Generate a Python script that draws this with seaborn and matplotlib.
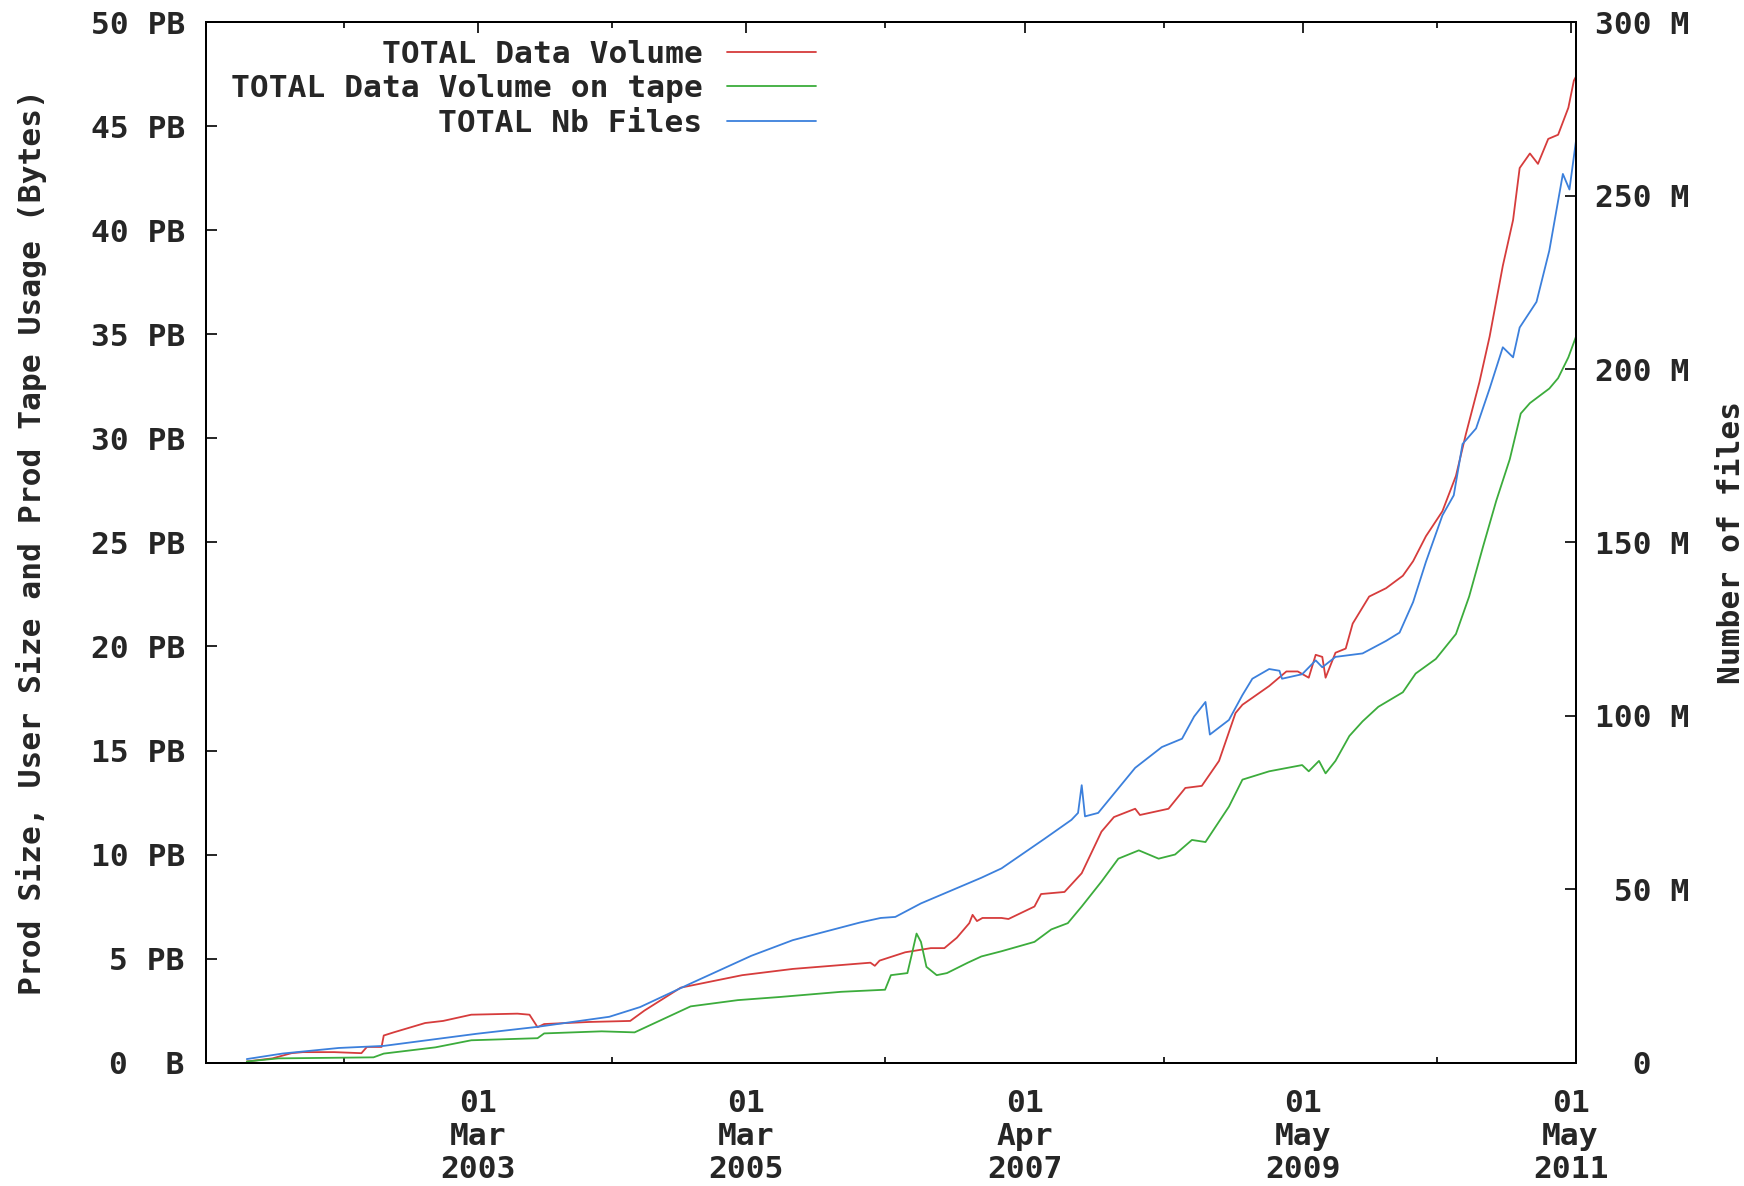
import pandas as pd
import matplotlib.pyplot as plt
import seaborn as sns


# DATA

vol_dates = [
    "2001-06-07", "2001-08-16", "2001-10-07", "2001-11-07", "2002-02-01", "2002-04-16",
    "2002-05-01", "2002-06-10", "2002-06-16", "2002-07-13", "2002-10-07", "2002-11-25",
    "2003-02-10", "2003-06-16", "2003-07-19", "2003-08-10", "2003-08-28", "2003-12-28",
    "2004-04-19", "2004-05-28", "2004-09-04", "2005-02-19", "2005-07-07", "2006-02-04",
    "2006-02-16", "2006-03-01", "2006-05-10", "2006-07-19", "2006-08-25", "2006-09-28",
    "2006-11-01", "2006-11-10", "2006-11-22", "2006-12-07", "2007-01-28", "2007-02-16",
    "2007-04-28", "2007-05-16", "2007-07-19", "2007-09-04", "2007-10-28", "2007-12-01",
    "2008-01-28", "2008-02-10", "2008-04-28", "2008-06-13", "2008-07-28", "2008-09-13",
    "2008-10-28", "2008-11-16", "2009-01-28", "2009-03-16", "2009-04-16", "2009-05-16",
    "2009-06-04", "2009-06-22", "2009-07-01", "2009-07-28", "2009-08-25", "2009-09-13",
    "2009-10-28", "2009-12-13", "2010-01-28", "2010-02-25", "2010-04-01", "2010-05-16",
    "2010-06-22", "2010-07-19", "2010-08-25", "2010-09-22", "2010-10-28", "2010-11-25",
    "2010-12-13", "2011-01-10", "2011-02-01", "2011-03-01", "2011-03-28", "2011-04-25",
    "2011-05-10", "2011-05-16",
]
vol_pb = [
    0.05, 0.2, 0.45, 0.5, 0.5, 0.45,
    0.75, 0.75, 1.3, 1.45, 1.9, 2.0,
    2.3, 2.35, 2.3, 1.7, 1.85, 1.95,
    2.0, 2.5, 3.6, 4.2, 4.5, 4.8,
    4.65, 4.9, 5.3, 5.5, 5.5, 6.0,
    6.7, 7.1, 6.8, 6.95, 6.95, 6.9,
    7.5, 8.1, 8.2, 9.1, 11.1, 11.8,
    12.2, 11.9, 12.2, 13.2, 13.3, 14.5,
    16.8, 17.2, 18.1, 18.8, 18.8, 18.5,
    19.6, 19.5, 18.5, 19.7, 19.9, 21.1,
    22.4, 22.8, 23.4, 24.1, 25.3, 26.5,
    28.2, 30.2, 32.7, 34.9, 38.3, 40.5,
    43.0, 43.7, 43.2, 44.4, 44.6, 45.9,
    47.2, 47.4,
]

tape_dates = [
    "2001-06-07", "2001-09-01", "2002-05-19", "2002-06-16", "2002-11-04", "2003-02-10",
    "2003-08-10", "2003-08-28", "2004-02-01", "2004-05-01", "2004-10-01", "2005-02-07",
    "2005-06-01", "2005-11-16", "2006-03-16", "2006-04-01", "2006-05-16", "2006-05-28",
    "2006-06-10", "2006-06-22", "2006-07-07", "2006-08-04", "2006-09-01", "2006-10-28",
    "2006-12-04", "2007-01-28", "2007-04-28", "2007-06-13", "2007-07-28", "2007-09-04",
    "2007-10-28", "2007-12-13", "2008-02-07", "2008-04-01", "2008-05-16", "2008-07-01",
    "2008-08-07", "2008-10-10", "2008-11-16", "2009-01-28", "2009-04-28", "2009-05-16",
    "2009-06-13", "2009-07-01", "2009-07-28", "2009-09-04", "2009-10-10", "2009-11-22",
    "2010-01-28", "2010-03-04", "2010-04-28", "2010-06-22", "2010-07-28", "2010-09-04",
    "2010-10-10", "2010-11-16", "2010-12-16", "2011-01-10", "2011-03-04", "2011-03-28",
    "2011-04-25", "2011-05-16",
]
tape_pb = [
    0.05, 0.2, 0.25, 0.43, 0.73, 1.07,
    1.17, 1.4, 1.5, 1.45, 2.7, 3.0,
    3.15, 3.4, 3.5, 4.2, 4.3, 5.2,
    6.2, 5.8, 4.6, 4.2, 4.3, 4.8,
    5.1, 5.35, 5.8, 6.4, 6.7, 7.5,
    8.7, 9.8, 10.2, 9.8, 10.0, 10.7,
    10.6, 12.3, 13.6, 14.0, 14.3, 14.0,
    14.5, 13.9, 14.5, 15.7, 16.4, 17.1,
    17.8, 18.7, 19.4, 20.6, 22.4, 24.8,
    27.0, 29.0, 31.2, 31.7, 32.4, 32.9,
    33.9, 34.9,
]

files_dates = [
    "2001-06-07", "2001-09-13", "2002-02-13", "2002-06-16", "2003-02-25", "2003-08-10",
    "2004-02-22", "2004-05-16", "2004-10-01", "2005-03-16", "2005-07-07", "2006-01-07",
    "2006-03-04", "2006-04-13", "2006-06-22", "2006-12-04", "2007-01-28", "2007-05-25",
    "2007-08-07", "2007-08-25", "2007-09-04", "2007-09-13", "2007-10-19", "2008-01-28",
    "2008-04-10", "2008-06-04", "2008-07-07", "2008-08-07", "2008-08-19", "2008-10-10",
    "2008-11-16", "2008-12-13", "2009-01-28", "2009-02-25", "2009-03-04", "2009-04-28",
    "2009-06-04", "2009-06-22", "2009-07-28", "2009-10-10", "2009-12-13", "2010-01-19",
    "2010-02-25", "2010-04-01", "2010-05-16", "2010-06-16", "2010-07-10", "2010-08-16",
    "2010-09-22", "2010-10-28", "2010-11-25", "2010-12-13", "2011-01-28", "2011-03-04",
    "2011-04-10", "2011-04-28", "2011-05-16",
]
files_m = [
    1, 2.6, 4.2, 4.8, 8.3, 10.3,
    13.2, 16, 22.8, 30.8, 35.3, 40.4,
    41.7, 42, 45.9, 53.3, 56, 64.5,
    70, 72, 80, 71, 72, 85,
    91, 93.4, 99.8, 104, 94.6, 98.8,
    106, 110.7, 113.5, 113, 110.7, 112,
    116, 114, 117, 118, 121.6, 124,
    132.8, 144.4, 157.8, 163.6, 178.4, 182.9,
    194.4, 206.3, 203.4, 212, 219.4, 234.2,
    256.3, 251.8, 266,
]

series_names = ["TOTAL Data Volume", "TOTAL Data Volume on tape", "TOTAL Nb Files"]
series_colors = ["#d63c3c", "#3cac3c", "#3c80dc"]

x_tick_dates = ["2003-03-01", "2005-03-01", "2007-04-01", "2009-05-01", "2011-05-01"]
x_tick_labels = ["01\nMar\n2003", "01\nMar\n2005", "01\nApr\n2007", "01\nMay\n2009", "01\nMay\n2011"]

left_ticks = [0, 5, 10, 15, 20, 25, 30, 35, 40, 45, 50]
left_labels = ["0  B", "5 PB", "10 PB", "15 PB", "20 PB", "25 PB", "30 PB", "35 PB", "40 PB", "45 PB", "50 PB"]
right_ticks = [0, 50, 100, 150, 200, 250, 300]
right_labels = ["  0", " 50 M", "100 M", "150 M", "200 M", "250 M", "300 M"]


# SETTINGS

sns.set_theme(style="white")
plt.rcParams["font.family"] = ["DejaVu Sans Mono", "DejaVu Sans"]
plt.rcParams["font.weight"] = "bold"
FS = 22.5

vol = pd.DataFrame({"date": pd.to_datetime(vol_dates), "value": vol_pb})
tape = pd.DataFrame({"date": pd.to_datetime(tape_dates), "value": tape_pb})
files = pd.DataFrame({"date": pd.to_datetime(files_dates), "value": files_m})


# PLOT

fig = plt.figure(figsize=(17.44, 11.86), dpi=100)
ax = fig.add_axes([0.118, 0.1041, 0.7857, 0.877])
ax2 = ax.twinx()

sns.lineplot(data=vol, x="date", y="value", ax=ax, color=series_colors[0], linewidth=1.3, label=series_names[0])
sns.lineplot(data=tape, x="date", y="value", ax=ax, color=series_colors[1], linewidth=1.3, label=series_names[1])
sns.lineplot(data=files, x="date", y="value", ax=ax2, color=series_colors[2], linewidth=1.3, label=series_names[2])

ax.set_xlim(pd.Timestamp("2001-02-15"), pd.Timestamp("2011-05-16"))
ax.set_ylim(0, 50)
ax2.set_ylim(0, 300)

# x ticks: labelled every other tick, small ticks in between
major = pd.to_datetime(x_tick_dates)
minor = [major[0] - (major[1] - major[0]) / 2] + [major[i] + (major[i + 1] - major[i]) / 2 for i in range(len(major) - 1)]
ax.set_xticks(major)
ax.set_xticklabels(x_tick_labels, fontsize=FS, linespacing=1.17)
ax.set_xticks(minor, minor=True)
ax.set_xlabel("")

ax.set_yticks(left_ticks)
ax.set_yticklabels(left_labels, fontsize=FS)
ax2.set_yticks(right_ticks)
ax2.set_yticklabels(right_labels, fontsize=FS)

ax.tick_params(axis="x", which="major", direction="in", length=8, width=1.2, pad=19, top=True, color="black")
ax.tick_params(axis="x", which="minor", direction="in", length=4.5, width=1.2, top=True, bottom=True, color="black")
ax.tick_params(axis="y", direction="in", length=8, width=1.2, pad=15, left=True, right=False, color="black")
ax2.tick_params(axis="y", direction="in", length=8, width=1.2, pad=13.5, right=True, color="black")
for lab in ax2.get_yticklabels():
    lab.set_horizontalalignment("left")

for a in (ax, ax2):
    for sp in a.spines.values():
        sp.set_color("black")
        sp.set_linewidth(1.4)

ax.set_ylabel("Prod Size, User Size and Prod Tape Usage (Bytes)", fontsize=FS, fontweight="bold")
ax.yaxis.set_label_coords(-0.116, 0.5)
ax2.set_ylabel("Number of files", fontsize=FS, fontweight="bold", rotation=90)
ax2.yaxis.set_label_coords(1.103, 0.5)

# legend: text first, sample line after it
if ax.get_legend():
    ax.get_legend().remove()
handles = ax.get_lines() + ax2.get_lines()
ax2.legend(handles, series_names, loc="upper right", bbox_to_anchor=(0.4545, 0.995),
           frameon=False, markerfirst=False, fontsize=FS, handlelength=2.85,
           handletextpad=0.78, labelspacing=0.17, borderaxespad=0)

fig.savefig("out.png", dpi=100)
